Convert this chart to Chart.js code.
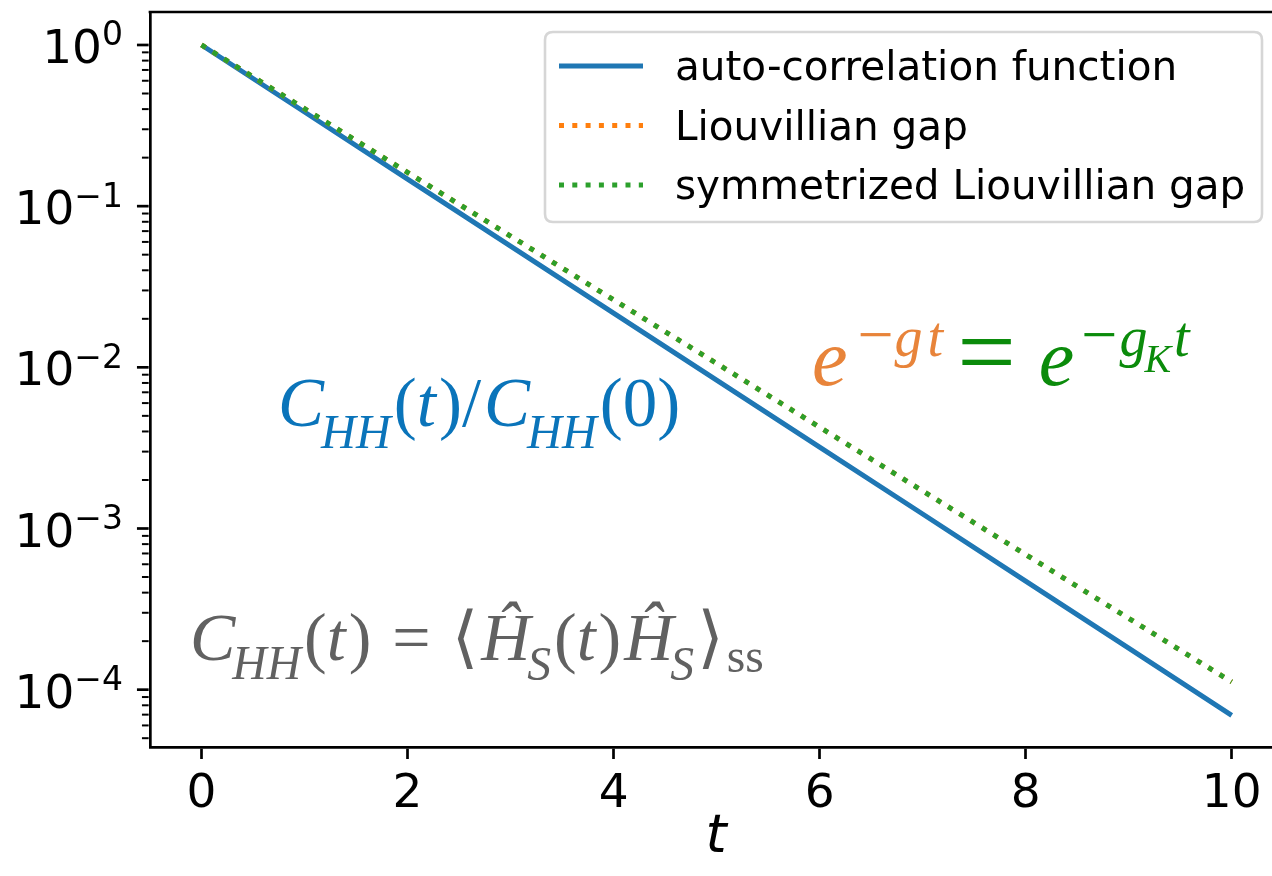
<!DOCTYPE html>
<html><head><meta charset="utf-8">
<script src="https://cdn.jsdelivr.net/npm/chart.js@4.4.1/dist/chart.umd.min.js"></script>
<style>
html,body{margin:0;padding:0;overflow:hidden;background:#fff;width:1272px;height:876px}
#wrap{position:absolute;left:0;top:0;width:1300px;height:876px}
</style></head><body>
<div id="wrap"><canvas id="c" width="1300" height="876"></canvas></div>
<script>
// ---- data ----
const tValues = [0, 1, 2, 3, 4, 5, 6, 7, 8, 9, 10];
const autoCorrelation = [1, 0.384, 0.147, 0.0565, 0.0217, 0.00833, 0.00320, 0.00123, 0.000471, 0.000181, 0.0000693];
const liouvillianGap = [1, 0.4025, 0.162, 0.0652, 0.02625, 0.01057, 0.00425, 0.00171, 0.000689, 0.000277, 0.0001117];
const symmetrizedGap = [1, 0.4025, 0.162, 0.0652, 0.02625, 0.01057, 0.00425, 0.00171, 0.000689, 0.000277, 0.0001117];
const seriesLabels = ['auto-correlation function', 'Liouvillian gap', 'symmetrized Liouvillian gap'];
const xTickValues = [0, 2, 4, 6, 8, 10];
const yTickExponents = [0, -1, -2, -3, -4];
const xLabel = 't';

const COLORS = ['#1f77b4', '#ff7f0e', '#2ca02c'];
const SERIF = '"Liberation Serif","DejaVu Serif",serif';
const SANS = '"DejaVu Sans",sans-serif';

function pts(ys) { return tValues.map((t, i) => ({x: t, y: ys[i]})); }

// draw a sequence of text segments (math-like)
function drawMath(ctx, x, base, F, segs) {
  ctx.save();
  ctx.textAlign = 'left';
  ctx.textBaseline = 'alphabetic';
  let cx = x;
  for (const s of segs) {
    const size = F * (s.k || 1);
    ctx.font = (s.it ? 'italic ' : '') + size + 'px ' + SERIF;
    ctx.fillStyle = s.c;
    cx += (s.g || 0);
    ctx.fillText(s.t, cx, base + (s.dy || 0) * F);
    cx += ctx.measureText(s.t).width + (s.ga || 0);
  }
  ctx.restore();
  return cx;
}

const overlay = {
  id: 'overlay',
  afterDraw(chart) {
    const ctx = chart.ctx, ca = chart.chartArea;
    const ys = chart.scales.y;
    ctx.save();
    // top spine
    ctx.strokeStyle = '#000'; ctx.lineWidth = 2.7; ctx.lineCap = 'butt';
    ctx.beginPath(); ctx.moveTo(ca.left - 1.35, ca.top); ctx.lineTo(ca.right, ca.top); ctx.stroke();
    // y ticks
    const left = ca.left - 1.35;
    for (const e of yTickExponents) {
      const py = ys.getPixelForValue(Math.pow(10, e));
      ctx.lineWidth = 2.7;
      ctx.beginPath(); ctx.moveTo(left, py); ctx.lineTo(left - 11.7, py); ctx.stroke();
    }
    for (let e = -5; e <= 0; e++) {
      for (let k = 2; k <= 9; k++) {
        const v = k * Math.pow(10, e);
        if (v < ys.min || v > ys.max) continue;
        const py = ys.getPixelForValue(v);
        ctx.lineWidth = 2;
        ctx.beginPath(); ctx.moveTo(left, py); ctx.lineTo(left - 6.7, py); ctx.stroke();
      }
    }
    // y tick labels 10^e
    ctx.fillStyle = '#000'; ctx.textBaseline = 'alphabetic';
    for (const e of yTickExponents) {
      const py = ys.getPixelForValue(Math.pow(10, e));
      const sup = e === 0 ? '0' : '\u2212' + (-e);
      ctx.font = '33px ' + SANS;
      const sw = ctx.measureText(sup).width;
      const rx = 123;
      ctx.textAlign = 'left';
      ctx.fillText(sup, rx - sw, py + 0.5);
      ctx.font = '47px ' + SANS;
      ctx.textAlign = 'right';
      ctx.fillText('10', rx - sw, py + 18);
    }
    // x axis label
    ctx.font = 'italic 54px ' + SANS;
    ctx.textAlign = 'center';
    ctx.fillText(xLabel, 716, 852);

    // legend
    const lx = 545, ly = 32, lw = 717, lh = 190, r = 8;
    ctx.beginPath();
    ctx.moveTo(lx + r, ly); ctx.lineTo(lx + lw - r, ly); ctx.quadraticCurveTo(lx + lw, ly, lx + lw, ly + r);
    ctx.lineTo(lx + lw, ly + lh - r); ctx.quadraticCurveTo(lx + lw, ly + lh, lx + lw - r, ly + lh);
    ctx.lineTo(lx + r, ly + lh); ctx.quadraticCurveTo(lx, ly + lh, lx, ly + lh - r);
    ctx.lineTo(lx, ly + r); ctx.quadraticCurveTo(lx, ly, lx + r, ly); ctx.closePath();
    ctx.fillStyle = 'rgba(255,255,255,0.8)'; ctx.fill();
    ctx.strokeStyle = '#d6d6d6'; ctx.lineWidth = 2.6; ctx.stroke();
    const rows = [66, 125.5, 185];
    chart.data.datasets.forEach((ds, i) => {
      const yy = rows[i];
      ctx.strokeStyle = ds.borderColor; ctx.lineWidth = 5;
      ctx.setLineDash(ds.borderDash || []);
      ctx.beginPath(); ctx.moveTo(559, yy); ctx.lineTo(643, yy); ctx.stroke();
      ctx.setLineDash([]);
      ctx.fillStyle = '#000'; ctx.font = '40.5px ' + SANS; ctx.textAlign = 'left';
      ctx.fillText(ds.label, 675, yy + 14);
    });

    // annotations
    const B = '#0a74ba', O = '#e8843a', G = '#0b8b0b', Gr = '#616161';
    drawMath(ctx, 278, 426, 69, [
      {t: 'C', it: 1, c: B},
      {t: 'HH', it: 1, k: 0.7, dy: 0.32, c: B, g: -3},
      {t: '(', c: B, g: 3}, {t: 't', it: 1, c: B}, {t: ')', c: B, g: 3},
      {t: '/', c: B}, {t: 'C', it: 1, c: B, g: 3},
      {t: 'HH', it: 1, k: 0.7, dy: 0.32, c: B, g: -3},
      {t: '(0)', c: B, g: 3}
    ]);
    let ex = drawMath(ctx, 812, 385, 80, [
      {t: 'e', it: 1, c: O},
      {t: '\u2212', k: 0.8, dy: -0.36, c: O, g: 10},
      {t: 'g', it: 1, k: 0.7, dy: -0.36, c: O, g: 1},
      {t: 't', it: 1, k: 0.7, dy: -0.36, c: O, g: 5}
    ]);
    drawMath(ctx, ex + 14, 387, 80, [
      {t: '=', c: G, k: 1.3},
      {t: 'e', it: 1, c: G, g: 23, dy: -0.025},
      {t: '\u2212', k: 0.8, dy: -0.385, c: G, g: 7},
      {t: 'g', it: 1, k: 0.7, dy: -0.385, c: G, g: 2},
      {t: 'K', it: 1, k: 0.5, dy: -0.19, c: G, g: -3},
      {t: 't', it: 1, k: 0.7, dy: -0.385, c: G, g: 3}
    ]);
    drawMath(ctx, 190, 660, 68, [
      {t: 'C', it: 1, c: Gr},
      {t: 'HH', it: 1, k: 0.7, dy: 0.28, c: Gr, g: -3},
      {t: '(', c: Gr, g: 3}, {t: 't', it: 1, c: Gr}, {t: ')', c: Gr, g: 3},
      {t: '=', c: Gr, g: 21},
      {t: '\u27E8', c: Gr, g: 21},
      {t: '\u0124', it: 1, c: Gr, g: 3},
      {t: 'S', it: 1, k: 0.7, dy: 0.3, c: Gr, g: -3},
      {t: '(', c: Gr, g: 3}, {t: 't', it: 1, c: Gr}, {t: ')', c: Gr, g: 3},
      {t: '\u0124', it: 1, c: Gr, g: 3},
      {t: 'S', it: 1, k: 0.7, dy: 0.3, c: Gr, g: -3},
      {t: '\u27E9', c: Gr, g: 3},
      {t: 'ss', k: 0.7, dy: 0.18, c: Gr, g: 3}
    ]);
    ctx.restore();
  }
};

const chart = new Chart(document.getElementById('c'), {
  type: 'line',
  data: {
    datasets: [
      {label: seriesLabels[0], data: pts(autoCorrelation), borderColor: COLORS[0], borderWidth: 5, pointRadius: 0, tension: 0, order: 3, fill: false},
      {label: seriesLabels[1], data: pts(liouvillianGap), borderColor: COLORS[1], borderWidth: 5, borderDash: [5, 8.3], pointRadius: 0, tension: 0, order: 2, fill: false},
      {label: seriesLabels[2], data: pts(symmetrizedGap), borderColor: COLORS[2], borderWidth: 5, borderDash: [5, 8.3], pointRadius: 0, tension: 0, order: 1, fill: false}
    ]
  },
  options: {
    responsive: false, animation: false, devicePixelRatio: 1,
    layout: {padding: {left: 0, top: 12, right: 16.8, bottom: 0}},
    plugins: {legend: {display: false}, tooltip: {enabled: false}},
    scales: {
      x: {
        type: 'linear', min: -0.5, max: 10.5,
        afterBuildTicks(s) { s.ticks = xTickValues.map(v => ({value: v})); },
        afterFit(s) { s.height = 128.7; },
        grid: {display: true, drawOnChartArea: false, drawTicks: true, tickLength: 11.7, tickWidth: 2.7, tickColor: '#000'},
        border: {display: true, color: '#000', width: 2.7},
        ticks: {color: '#000', font: {family: 'DejaVu Sans', size: 47}, padding: 8, maxRotation: 0, autoSkip: false}
      },
      y: {
        type: 'logarithmic', min: 4.39e-5, max: 1.602,
        afterFit(s) { s.width = 150; },
        grid: {display: false},
        border: {display: true, color: '#000', width: 2.7},
        ticks: {display: false}
      }
    }
  },
  plugins: [overlay]
});
</script>
</body></html>
